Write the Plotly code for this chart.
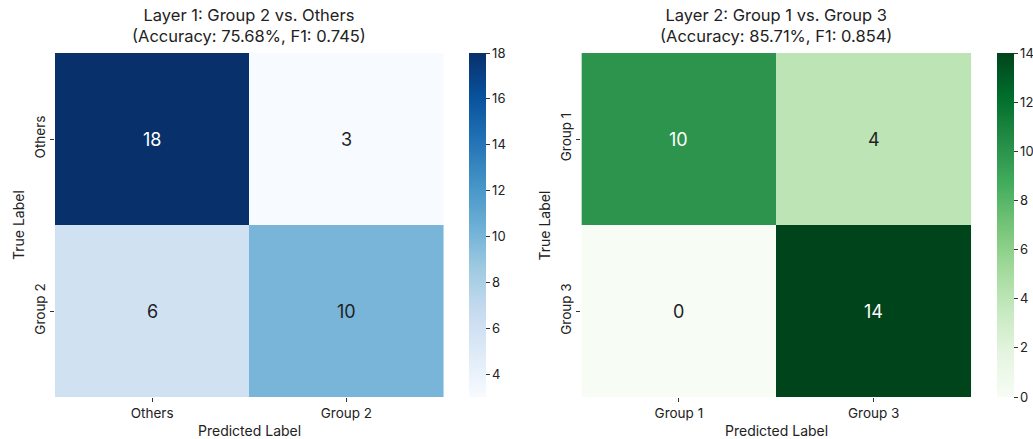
import plotly.graph_objects as go
import plotly.colors as pc

# Data
labels1 = ["Others", "Group 2"]
cm1 = [[18, 3], [6, 10]]
title1 = "Layer 1: Group 2 vs. Others<br>(Accuracy: 75.68%, F1: 0.745)"
cbar1_ticks = [4, 6, 8, 10, 12, 14, 16, 18]

labels2 = ["Group 1", "Group 3"]
cm2 = [[10, 4], [0, 14]]
title2 = "Layer 2: Group 1 vs. Group 3<br>(Accuracy: 85.71%, F1: 0.854)"
cbar2_ticks = [0, 2, 4, 6, 8, 10, 12, 14]

FONT = "Inter"
W, H = 1033, 439
TXT = "#222"

fig = go.Figure()

panels = [
    dict(cm=cm1, labels=labels1, title=title1, ticks=cbar1_ticks,
         cs=pc.sequential.Blues, xd=[55 / W, 444 / W], cbx=469 / W, ax=""),
    dict(cm=cm2, labels=labels2, title=title2, ticks=cbar2_ticks,
         cs=pc.sequential.Greens, xd=[582 / W, 972 / W], cbx=997 / W, ax="2"),
]

ydom = [(H - 397) / H, (H - 53) / H]
annotations = []
for p in panels:
    cm = p["cm"]
    zmin = min(min(r) for r in cm)
    zmax = max(max(r) for r in cm)
    fig.add_trace(go.Heatmap(
        z=cm, x=p["labels"], y=p["labels"],
        colorscale=p["cs"], zmin=zmin, zmax=zmax,
        xaxis="x" + p["ax"], yaxis="y" + p["ax"],
        xgap=0, ygap=0, hoverinfo="skip",
        colorbar=dict(
            x=p["cbx"], xanchor="left", xpad=0, ypad=0,
            y=(ydom[0] + ydom[1]) / 2, yanchor="middle",
            len=ydom[1] - ydom[0], lenmode="fraction",
            thickness=17, outlinewidth=0,
            ticks="outside", ticklen=4, tickwidth=1, tickcolor="#333",
            tickvals=p["ticks"],
            tickfont=dict(family=FONT, size=13, color=TXT),
        ),
    ))
    mid = (zmin + zmax) / 2
    for i, row in enumerate(cm):
        for j, v in enumerate(row):
            annotations.append(dict(
                x=p["labels"][j], y=p["labels"][i],
                xref="x" + p["ax"], yref="y" + p["ax"],
                text=str(v), showarrow=False,
                font=dict(family=FONT, size=18,
                          color="white" if v > mid else TXT),
            ))
    cx = (p["xd"][0] + p["xd"][1]) / 2
    annotations.append(dict(
        x=cx, y=1 - 25 / H, xref="paper", yref="paper",
        text=p["title"], showarrow=False, xanchor="center", yanchor="middle",
        font=dict(family=FONT, size=16.5, color=TXT),
    ))
    annotations.append(dict(
        x=cx, y=1 - 430 / H, xref="paper", yref="paper",
        text="Predicted Label", showarrow=False, xanchor="center", yanchor="middle",
        font=dict(family=FONT, size=14, color=TXT),
    ))
    annotations.append(dict(
        x=p["xd"][0] - 37 / W, y=(ydom[0] + ydom[1]) / 2, xref="paper", yref="paper",
        text="True Label", showarrow=False, textangle=-90,
        xanchor="center", yanchor="middle",
        font=dict(family=FONT, size=14, color=TXT),
    ))

axis_common = dict(showgrid=False, zeroline=False, showline=False,
                   ticks="outside", ticklen=4, tickwidth=1, tickcolor="#333",
                   tickfont=dict(family=FONT, size=13.5, color=TXT))

fig.update_layout(
    width=W, height=H,
    margin=dict(l=0, r=0, t=0, b=0),
    paper_bgcolor="white", plot_bgcolor="white",
    showlegend=False,
    annotations=annotations,
    xaxis=dict(domain=panels[0]["xd"], anchor="y", **axis_common),
    yaxis=dict(domain=ydom, anchor="x", autorange="reversed", tickangle=-90, **axis_common),
    xaxis2=dict(domain=panels[1]["xd"], anchor="y2", **axis_common),
    yaxis2=dict(domain=ydom, anchor="x2", autorange="reversed", tickangle=-90, **axis_common),
)

fig.write_html("out.html")
